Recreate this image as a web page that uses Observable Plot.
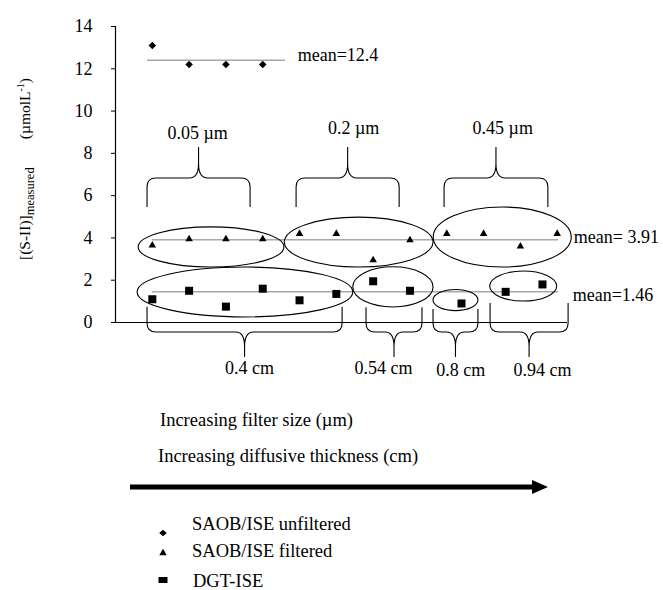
<!DOCTYPE html>
<html>
<head>
<meta charset="utf-8">
<script src="https://cdn.jsdelivr.net/npm/d3@7"></script>
<script src="https://cdn.jsdelivr.net/npm/@observablehq/plot@0.6"></script>
<style>
  body { margin: 0; background: #fff; }
  svg text { font-family: "Liberation Serif", "Times New Roman", serif; }
</style>
</head>
<body>
<div id="chart"></div>
<script>
// Measured sulfide, [S(-II)] in µmol/L, by sample position along the series
const unfilteredPos = [1, 2, 3, 4];
const unfilteredVal = [13.1, 12.2, 12.2, 12.2];
const filteredPos = [1, 2, 3, 4, 5, 6, 7, 8, 9, 10, 11, 12];
const filteredVal = [3.65, 3.95, 3.95, 3.95, 4.2, 4.2, 2.95, 3.9, 4.2, 4.2, 3.6, 4.2];
const dgtPos = [1, 2, 3, 4, 5, 6, 7, 8, 9.4, 10.6, 11.6];
const dgtVal = [1.1, 1.5, 0.75, 1.6, 1.05, 1.35, 1.95, 1.5, 0.9, 1.45, 1.8];

const meanValues = [12.4, 3.91, 1.46];
const meanLabels = ["mean=12.4", "mean= 3.91", "mean=1.46"];
const filterSizes = ["0.05 µm", "0.2 µm", "0.45 µm"];
const thicknesses = ["0.4 cm", "0.54 cm", "0.8 cm", "0.94 cm"];
const yTicks = [0, 2, 4, 6, 8, 10, 12, 14];
const legendLabels = ["SAOB/ISE unfiltered", "SAOB/ISE filtered", "DGT-ISE"];
const captionFilter = "Increasing filter size (µm)";
const captionThickness = "Increasing diffusive thickness (cm)";

// Annotation layout, in data units
const meanSpans = [[0.87, 4.62], [1.0, 12.04], [1.0, 12.04]];
const meanLabelAt = [[4.95, 12.63], [12.45, 4.02], [12.42, 1.28]];
const filterBraceSpans = [[0.87, 3.67], [4.92, 7.72], [8.94, 11.76]];
const filterLabelAt = [[2.23, 8.94], [6.47, 9.18], [10.52, 9.18]];
const filterBraceY = {end: 5.44, flat: 6.81, tip: 8.28};
const thickBraceSpans = [[0.87, 6.17, 0.72], [6.82, 8.34, 0.7], [8.64, 9.86, 0.62], [10.19, 12.31, 0.9]];
const thickLabelAt = [[3.64, -2.18], [7.28, -2.18], [9.38, -2.27], [11.6, -2.27]];
const thickBraceY = {flat: -0.47, tip: -1.66};
// group ellipses: centre x, centre y, radius x, radius y
const groupEllipses = [
  [2.61, 3.55, 1.98, 0.95], [6.62, 3.78, 2.02, 1.18], [10.52, 4.02, 1.875, 1.42],
  [3.53, 1.42, 2.93, 1.18], [7.55, 1.66, 1.09, 0.95], [9.25, 1.04, 0.61, 0.5], [11.09, 1.70, 0.91, 0.71]
];

const unfiltered = unfilteredPos.map((x, i) => ({x, y: unfilteredVal[i]}));
const filtered = filteredPos.map((x, i) => ({x, y: filteredVal[i]}));
const dgt = dgtPos.map((x, i) => ({x, y: dgtVal[i]}));
const means = meanValues.map((v, i) => ({
  y: v, x1: meanSpans[i][0], x2: meanSpans[i][1],
  lx: meanLabelAt[i][0], ly: meanLabelAt[i][1], label: meanLabels[i]
}));
const filterText = filterSizes.map((t, i) => ({t, x: filterLabelAt[i][0], y: filterLabelAt[i][1]}));
const thickText = thicknesses.map((t, i) => ({t, x: thickLabelAt[i][0], y: thickLabelAt[i][1]}));

const serif = '"Liberation Serif", "Times New Roman", serif';

const plot = Plot.plot({
  width: 663,
  height: 590,
  marginLeft: 115,
  marginRight: 96,
  marginTop: 26,
  marginBottom: 268,
  x: {domain: [0, 12.28], axis: null},
  y: {domain: [0, 14]},
  style: {fontFamily: serif, fontSize: "18px", color: "black", background: "white", overflow: "visible"},
  marks: [
    Plot.ruleY(means, {y: "y", x1: "x1", x2: "x2", stroke: "#a8a8a8", strokeWidth: 1.5}),
    Plot.ruleX([0], {y1: 0, y2: 14, stroke: "black", strokeWidth: 1.2}),
    Plot.ruleY([0], {stroke: "black", strokeWidth: 1.2}),
    Plot.axisY({ticks: yTicks, tickSize: 4, tickPadding: 19, fontSize: 18, label: null, stroke: "black", fill: "black"}),
    Plot.dot(unfiltered, {x: "x", y: "y", symbol: "diamond2", r: 3.4, fill: "black"}),
    Plot.dot(filtered, {x: "x", y: "y", symbol: "triangle2", r: 3.6, fill: "black"}),
    Plot.dot(dgt, {x: "x", y: "y", symbol: "square2", r: 5.1, fill: "black"}),
    Plot.text(means, {x: "lx", y: "ly", text: "label", textAnchor: "start", fontSize: 18, fill: "black"}),
    Plot.text(filterText, {x: "x", y: "y", text: "t", fontSize: 18, fill: "black"}),
    Plot.text(thickText, {x: "x", y: "y", text: "t", fontSize: 18, fill: "black"})
  ]
});

document.getElementById("chart").appendChild(plot);

const svg = d3.select(plot);
const sx = plot.scale("x");
const sy = plot.scale("y");
const X = (v) => sx.apply(v);
const Y = (v) => sy.apply(v);

// ellipses around each group of measurements
const annot = svg.append("g").attr("fill", "none").attr("stroke", "black").attr("stroke-width", 1.1);
for (const [cx, cy, rx, ry] of groupEllipses) {
  annot.append("ellipse")
    .attr("cx", X(cx)).attr("cy", Y(cy))
    .attr("rx", X(cx + rx) - X(cx)).attr("ry", Y(cy) - Y(cy + ry));
}

// curly brace: ends at yEnd, flat part at yFlat, point at yTip (pixels)
function brace(x0, x1, yEnd, yFlat, yTip) {
  const s = Math.sign(yTip - yFlat);
  const xc = (x0 + x1) / 2;
  const r = 9, r2 = 9;
  const half = (xe, dir) =>
    `M${xe},${yEnd} L${xe},${yFlat - s * r} Q${xe},${yFlat} ${xe + dir * r},${yFlat} ` +
    `L${xc - dir * r2},${yFlat} Q${xc},${yFlat} ${xc},${yFlat + s * r2 * 1.6} L${xc},${yTip}`;
  return half(x0, 1) + " " + half(x1, -1);
}
for (const [a, b] of filterBraceSpans) {
  annot.append("path").attr("d", brace(X(a), X(b), Y(filterBraceY.end), Y(filterBraceY.flat), Y(filterBraceY.tip)));
}
for (const [a, b, top] of thickBraceSpans) {
  annot.append("path").attr("d", brace(X(a), X(b), Y(top), Y(thickBraceY.flat), Y(thickBraceY.tip)));
}

// y-axis title with subscript and superscript
const yt = svg.append("g").attr("fill", "black").attr("font-size", 15.5).attr("font-family", serif);
const t1 = yt.append("text").attr("text-anchor", "start").attr("transform", "translate(30,260) rotate(-90)");
t1.append("tspan").text("[(S-II)]");
t1.append("tspan").attr("font-size", 12.5).attr("dy", 4).text("measured");
const t2 = yt.append("text").attr("transform", "translate(30,78) rotate(-90)").attr("text-anchor", "end");
t2.append("tspan").text("(µmolL");
t2.append("tspan").attr("font-size", 10).attr("dy", -6).text("-1");
t2.append("tspan").attr("dy", 6).text(")");

// captions and direction arrow
const cap = svg.append("g").attr("fill", "black").attr("font-size", 18.5)
  .attr("font-family", serif).attr("text-anchor", "start");
cap.append("text").attr("x", 160).attr("y", 426).text(captionFilter);
cap.append("text").attr("x", 158).attr("y", 462).text(captionThickness);
svg.append("line").attr("x1", 130).attr("x2", 536).attr("y1", 487).attr("y2", 487)
  .attr("stroke", "black").attr("stroke-width", 5);
svg.append("path").attr("d", "M532,480 L548,487 L532,494 Z").attr("fill", "black");

// legend
const legend = svg.append("g").attr("fill", "black").attr("font-family", serif).attr("text-anchor", "start");
legend.append("path").attr("transform", "translate(163,533)").attr("d", "M0,-3.2 L3.8,0 L0,3.2 L-3.8,0 Z");
legend.append("path").attr("transform", "translate(163,553)").attr("d", d3.symbol(d3.symbolTriangle2, 40)());
legend.append("rect").attr("x", 158.5).attr("y", 577).attr("width", 9).attr("height", 6);
const legendY = [530, 557, 587];
const legendX = [192, 192, 193];
legendLabels.forEach((t, i) => {
  legend.append("text").attr("x", legendX[i]).attr("y", legendY[i]).attr("font-size", 18.5).text(t);
});
</script>
</body>
</html>
